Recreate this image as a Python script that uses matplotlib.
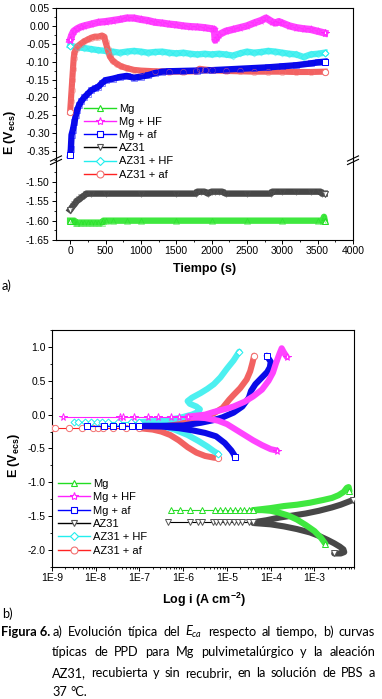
import matplotlib
matplotlib.use("Agg")
import matplotlib.pyplot as plt
from matplotlib.lines import Line2D
from matplotlib.transforms import IdentityTransform
from matplotlib.ticker import MultipleLocator, FixedLocator, LogLocator, NullFormatter
import numpy as np

plt.rcParams["font.family"] = ["Liberation Sans", "DejaVu Sans"]
plt.rcParams["mathtext.fontset"] = "custom"
plt.rcParams["mathtext.rm"] = "Liberation Sans"
plt.rcParams["mathtext.bf"] = "Liberation Sans:bold"
plt.rcParams["mathtext.it"] = "Lato:italic"

LABELS = ["Mg", "Mg + HF", "Mg + af", "AZ31", "AZ31 + HF", "AZ31 + af"]

# ---- panel a: OCP vs time ----
t_mg = [0, 20, 40, 60, 80, 100, 150, 200, 250, 300, 350, 400, 450, 470, 500, 600, 800, 1000,
        1500, 2000, 2500, 3000, 3500, 3570, 3590, 3600]
e_mg = [-1.600, -1.600, -1.600, -1.600, -1.605, -1.605, -1.605, -1.605, -1.605, -1.605, -1.605,
        -1.605, -1.605, -1.600, -1.600, -1.600, -1.600, -1.600, -1.600, -1.600, -1.600, -1.600,
        -1.600, -1.600, -1.590, -1.600]

t_mghf = [0, 25, 50, 100, 150, 200, 300, 400, 500, 600, 700, 800, 900, 1000, 1100, 1200, 1300,
          1400, 1500, 1600, 1700, 1800, 1900, 2000, 2040, 2050, 2070, 2100, 2200, 2300, 2400,
          2500, 2600, 2700, 2770, 2850, 2900, 2950, 3000, 3100, 3200, 3300, 3400, 3500, 3600]
e_mghf = [-0.040, -0.025, -0.015, -0.008, -0.003, 0.000, 0.005, 0.010, 0.012, 0.015, 0.018,
          0.022, 0.022, 0.018, 0.015, 0.010, 0.008, 0.005, 0.003, 0.000, -0.002, -0.003, -0.005,
          -0.008, -0.010, -0.040, -0.035, -0.025, -0.015, -0.010, -0.005, 0.000, 0.008, 0.015,
          0.022, 0.012, 0.008, 0.012, 0.008, 0.000, -0.005, -0.008, -0.010, -0.015, -0.020]

t_mgaf = [0, 10, 20, 40, 60, 80, 100, 130, 160, 200, 250, 300, 350, 400, 450, 500, 600, 700,
          800, 900, 1000, 1100, 1200, 1300, 1400, 1600, 1800, 2000, 2200, 2400, 2600, 2800,
          3000, 3200, 3400, 3500, 3600]
e_mgaf = [-0.362, -0.345, -0.305, -0.290, -0.270, -0.250, -0.235, -0.220, -0.210, -0.200,
          -0.190, -0.180, -0.175, -0.170, -0.160, -0.152, -0.148, -0.143, -0.140, -0.145,
          -0.142, -0.138, -0.132, -0.128, -0.127, -0.126, -0.125, -0.124, -0.122, -0.120,
          -0.118, -0.116, -0.113, -0.110, -0.105, -0.102, -0.100]

t_az = [0, 20, 40, 60, 80, 100, 130, 160, 200, 230, 300, 500, 1000, 1500, 1780, 1800, 1850,
        1900, 1950, 2000, 2050, 2100, 2150, 2200, 2500, 2840, 2860, 3000, 3200, 3400, 3540,
        3560, 3600]
e_az = [-1.572, -1.567, -1.562, -1.558, -1.553, -1.548, -1.545, -1.540, -1.535, -1.530, -1.530,
        -1.530, -1.530, -1.530, -1.530, -1.525, -1.525, -1.525, -1.530, -1.525, -1.525, -1.525,
        -1.525, -1.530, -1.530, -1.530, -1.525, -1.525, -1.525, -1.525, -1.525, -1.530, -1.530]

t_azhf = [0, 100, 200, 300, 400, 500, 600, 700, 800, 900, 1000, 1100, 1200, 1300, 1400, 1500,
          1600, 1700, 1800, 1900, 2000, 2100, 2200, 2300, 2400, 2500, 2600, 2700, 2800, 2900,
          3000, 3100, 3200, 3300, 3400, 3500, 3600]
e_azhf = [-0.055, -0.060, -0.062, -0.065, -0.068, -0.070, -0.072, -0.075, -0.072, -0.070,
          -0.072, -0.075, -0.073, -0.072, -0.075, -0.077, -0.075, -0.078, -0.080, -0.078,
          -0.080, -0.078, -0.080, -0.083, -0.077, -0.072, -0.075, -0.073, -0.070, -0.072,
          -0.075, -0.078, -0.080, -0.087, -0.080, -0.078, -0.075]

t_azaf = [0, 10, 20, 30, 40, 50, 60, 80, 100, 150, 200, 250, 300, 350, 400, 450, 480, 500, 530,
          560, 600, 660, 720, 800, 900, 1000, 1200, 1400, 1600, 1780, 1830, 1900, 2000, 2200,
          2400, 2600, 2800, 3000, 3200, 3400, 3600]
e_azaf = [-0.240, -0.210, -0.180, -0.150, -0.120, -0.090, -0.075, -0.065, -0.058, -0.050,
          -0.043, -0.038, -0.033, -0.030, -0.030, -0.027, -0.030, -0.045, -0.065, -0.085,
          -0.097, -0.106, -0.113, -0.118, -0.123, -0.125, -0.127, -0.128, -0.128, -0.127,
          -0.120, -0.122, -0.124, -0.126, -0.127, -0.128, -0.128, -0.128, -0.129, -0.129, -0.128]

# ---- panel b: polarisation curves (log10 i, E) ----
# each curve: tail near Ecorr, cathodic branch, anodic branch
mg_tail_logi = [-6.27, -6.08, -5.85, -5.58, -5.28, -5.16, -5.05, -4.93, -4.82, -4.7, -4.6, -4.5, -4.4]
mg_tail_e = [-1.41] * 13
mg_cat_logi = [-4.4, -4.2, -4.0, -3.8, -3.6, -3.4, -3.2, -3.0, -2.85, -2.75]
mg_cat_e = [-1.41, -1.41, -1.42, -1.45, -1.49, -1.55, -1.63, -1.72, -1.82, -1.91]
mg_an_logi = [-4.4, -4.0, -3.7, -3.4, -3.1, -2.8, -2.6, -2.45, -2.33, -2.26, -2.22, -2.2]
mg_an_e = [-1.41, -1.38, -1.35, -1.33, -1.30, -1.26, -1.23, -1.19, -1.14, -1.08, -1.07, -1.13]

mghf_tail_logi = [-8.75, -7.45, -7.38, -7.13, -6.8, -6.58, -6.28, -6.1, -5.9]
mghf_tail_e = [-0.03] * 9
mghf_cat_logi = [-5.9, -5.5, -5.2, -5.0, -4.85, -4.6, -4.4, -4.2, -4.0, -3.86]
mghf_cat_e = [-0.035, -0.05, -0.09, -0.14, -0.20, -0.30, -0.38, -0.45, -0.51, -0.53]
mghf_an_logi = [-5.9, -5.5, -5.3, -5.0, -4.85, -4.6, -4.4, -4.2, -4.05, -3.95, -3.88, -3.80,
                -3.75, -3.70, -3.63]
mghf_an_e = [-0.03, 0.0, 0.04, 0.09, 0.12, 0.19, 0.27, 0.37, 0.50, 0.62, 0.76, 0.90, 0.98, 0.92, 0.85]

mgaf_tail_logi = [-8.19, -7.82, -7.6, -7.4, -7.18, -7.0]
mgaf_tail_e = [-0.165] * 6
mgaf_cat_logi = [-7.0, -6.5, -6.1, -5.8, -5.5, -5.25, -5.05, -4.9, -4.83, -4.82]
mgaf_cat_e = [-0.17, -0.175, -0.20, -0.23, -0.27, -0.32, -0.42, -0.53, -0.60, -0.63]
mgaf_an_logi = [-7.0, -6.5, -6.0, -5.6, -5.3, -5.1, -4.85, -4.65, -4.5, -4.45, -4.35, -4.2,
                -4.08, -4.02, -4.0, -4.05, -4.09]
mgaf_an_e = [-0.165, -0.165, -0.16, -0.12, -0.08, -0.04, 0.03, 0.12, 0.25, 0.35, 0.45, 0.55,
             0.63, 0.70, 0.78, 0.83, 0.87]

az_tail_logi = [-6.35, -5.85, -5.66, -5.58, -5.32, -5.24, -5.16, -5.05, -4.95, -4.85, -4.75,
                -4.65, -4.5, -4.4]
az_tail_e = [-1.59] * 14
az_cat_logi = [-4.4, -4.0, -3.7, -3.4, -3.1, -2.9, -2.7, -2.55, -2.42, -2.34, -2.32, -2.4, -2.55]
az_cat_e = [-1.60, -1.62, -1.65, -1.69, -1.74, -1.79, -1.85, -1.90, -1.95, -1.99, -2.03, -2.05, -2.05]
az_an_logi = [-4.4, -4.1, -3.8, -3.5, -3.2, -2.9, -2.6, -2.4, -2.2, -2.12]
az_an_e = [-1.59, -1.56, -1.52, -1.49, -1.46, -1.42, -1.37, -1.33, -1.28, -1.26]

azhf_tail_logi = [-8.5, -8.4, -8.25, -8.1, -7.97, -7.85, -7.72, -7.5, -7.2, -7.0]
azhf_tail_e = [-0.11] * 10
azhf_cat_logi = [-7.0, -6.8, -6.5, -6.2, -5.9, -5.65, -5.45, -5.3, -5.2]
azhf_cat_e = [-0.11, -0.13, -0.16, -0.22, -0.30, -0.39, -0.47, -0.54, -0.58]
azhf_an_logi = [-7.0, -6.5, -6.1, -5.8, -5.66, -5.62, -5.7, -5.85, -5.9, -5.8, -5.6, -5.45,
                -5.3, -5.15, -5.0, -4.85, -4.72]
azhf_an_e = [-0.11, -0.09, -0.05, 0.0, 0.04, 0.08, 0.12, 0.16, 0.20, 0.25, 0.32, 0.38, 0.45,
             0.55, 0.68, 0.80, 0.93]

azaf_tail_logi = [-9.0, -8.94, -8.62, -8.31, -8.07, -7.95, -7.84, -7.6, -7.3, -7.0]
azaf_tail_e = [-0.19] * 10
azaf_cat_logi = [-7.0, -6.7, -6.5, -6.3, -6.1, -5.9, -5.7, -5.5, -5.3, -5.2]
azaf_cat_e = [-0.20, -0.22, -0.25, -0.30, -0.38, -0.48, -0.56, -0.61, -0.635, -0.64]
azaf_an_logi = [-7.0, -6.5, -6.0, -5.6, -5.3, -5.1, -5.0, -4.95, -4.85, -4.7, -4.55, -4.47,
                -4.42, -4.38]
azaf_an_e = [-0.19, -0.17, -0.12, -0.05, 0.02, 0.10, 0.18, 0.22, 0.29, 0.39, 0.52, 0.64, 0.76, 0.87]

# style per series: line colour, band colour, marker
STYLE = {
    "Mg": ("#22dd22", "#3fe83f", "^"),
    "Mg + HF": ("#ff22ff", "#ff44ff", "*"),
    "Mg + af": ("#0000ff", "#0a0ae8", "s"),
    "AZ31": ("#000000", "#474747", "v"),
    "AZ31 + HF": ("#22eeee", "#4cf0f0", "D"),
    "AZ31 + af": ("#ff2222", "#f26262", "o"),
}
MEC = {"Mg": "#22dd22", "Mg + HF": "#ff22ff", "Mg + af": "#0000ff", "AZ31": "#555555",
       "AZ31 + HF": "#22eeee", "AZ31 + af": "#f27070"}
MS = {"^": 4.5, "*": 5.5, "s": 4.0, "v": 4.5, "D": 3.5, "o": 4.5}

W, H = 382, 699
fig = plt.figure(figsize=(W / 100, H / 100), dpi=100)


def box(left, top, right, bottom):
    return [left / W, 1 - bottom / H, (right - left) / W, (bottom - top) / H]


TICK_FS = 7.5
LAB_FS = 9

# ---------- panel a ----------
ax_up = fig.add_axes(box(56, 8, 353, 160))
ax_lo = fig.add_axes(box(56, 160, 353, 240))

series_a = [
    ("AZ31 + HF", ax_up, t_azhf, e_azhf, 4.6),
    ("Mg + HF", ax_up, t_mghf, e_mghf, 5.2),
    ("AZ31 + af", ax_up, t_azaf, e_azaf, 4.4),
    ("Mg + af", ax_up, t_mgaf, e_mgaf, 4.6),
    ("AZ31", ax_lo, t_az, e_az, 4.6),
    ("Mg", ax_lo, t_mg, e_mg, 4.6),
]
for name, ax, t, e, lw in series_a:
    col, band, mk = STYLE[name]
    ax.plot(t, e, color=band, lw=lw, solid_joinstyle="round", zorder=2)
    ax.plot(t[:1] + t[-1:], e[:1] + e[-1:], ls="none", marker=mk, ms=MS[mk], mfc="white",
            mec=MEC[name], mew=0.7, zorder=3)
    ax.plot(t, e, ls="none", marker=mk, ms=MS[mk], mfc="none", mec=MEC[name], mew=0.5,
            alpha=0.6, zorder=3)

for ax in (ax_up, ax_lo):
    ax.set_xlim(-200, 4000)
    ax.tick_params(axis="both", which="major", direction="out", length=3, width=0.7,
                   labelsize=TICK_FS, pad=1.5)
    ax.tick_params(axis="both", which="minor", direction="out", length=1.6, width=0.6)
    ax.tick_params(axis="y", which="both", right=False)
    for sp in ax.spines.values():
        sp.set_linewidth(0.8)

ax_up.set_ylim(-0.3751, 0.05)
ax_up.yaxis.set_major_locator(FixedLocator([0.05, 0.0, -0.05, -0.10, -0.15, -0.20, -0.25, -0.30, -0.35]))
ax_up.yaxis.set_minor_locator(MultipleLocator(0.025))
ax_up.yaxis.set_major_formatter(matplotlib.ticker.FormatStrFormatter("%.2f"))
ax_up.spines["bottom"].set_visible(False)
ax_up.tick_params(axis="x", which="both", bottom=False, top=False, labelbottom=False)

ax_lo.set_ylim(-1.65, -1.4431)
ax_lo.yaxis.set_major_locator(FixedLocator([-1.50, -1.55, -1.60, -1.65]))
ax_lo.yaxis.set_minor_locator(FixedLocator([-1.475, -1.525, -1.575, -1.625]))
ax_lo.yaxis.set_major_formatter(matplotlib.ticker.FormatStrFormatter("%.2f"))
ax_lo.spines["top"].set_visible(False)
ax_lo.xaxis.set_major_locator(MultipleLocator(500))
ax_lo.xaxis.set_minor_locator(MultipleLocator(250))
ax_lo.tick_params(axis="x", which="both", top=False)

# break marks
for xb in (56, 353):
    for yb in (158.5, 162.0):
        fig.add_artist(Line2D([(xb - 5.5) / W, (xb + 5.5) / W],
                              [1 - (yb + 2.6) / H, 1 - (yb - 2.6) / H],
                              color="black", lw=0.8, transform=fig.transFigure))

handles = []
for name in LABELS:
    col, band, mk = STYLE[name]
    handles.append(Line2D([], [], color=col, lw=1.0, marker=mk, ms=MS[mk] + 0.5, mfc="white",
                          mec=MEC[name], mew=0.8))

fig.legend(handles, LABELS, loc="upper left", bbox_to_anchor=(84 / W, 1 - 104 / H),
           frameon=False, fontsize=8, handlelength=2.9, handletextpad=0.25, labelspacing=0.28,
           borderpad=0, borderaxespad=0)

fig.text(10 / W, 1 - 132 / H, r"E (V$_{\mathbf{ecs}}$)", rotation=90, ha="center", va="center",
         fontsize=LAB_FS, fontweight="bold")
fig.text(205 / W, 1 - 269 / H, "Tiempo (s)", ha="center", va="center", fontsize=LAB_FS,
         fontweight="bold")

# ---------- panel b ----------
ax_b = fig.add_axes(box(52, 330, 354, 567))
series_b = [
    ("AZ31", az_tail_logi, az_tail_e, az_cat_logi, az_cat_e, az_an_logi, az_an_e),
    ("Mg", mg_tail_logi, mg_tail_e, mg_cat_logi, mg_cat_e, mg_an_logi, mg_an_e),
    ("AZ31 + af", azaf_tail_logi, azaf_tail_e, azaf_cat_logi, azaf_cat_e, azaf_an_logi, azaf_an_e),
    ("AZ31 + HF", azhf_tail_logi, azhf_tail_e, azhf_cat_logi, azhf_cat_e, azhf_an_logi, azhf_an_e),
    ("Mg + af", mgaf_tail_logi, mgaf_tail_e, mgaf_cat_logi, mgaf_cat_e, mgaf_an_logi, mgaf_an_e),
    ("Mg + HF", mghf_tail_logi, mghf_tail_e, mghf_cat_logi, mghf_cat_e, mghf_an_logi, mghf_an_e),
]
for name, tl, te, cl, ce, al, ae in series_b:
    col, band, mk = STYLE[name]
    for lg, ee in ((cl, ce), (al, ae)):
        ax_b.plot(np.power(10.0, lg), ee, color=band, lw=4.4, solid_capstyle="round",
                  solid_joinstyle="round", zorder=2)
        ax_b.plot(np.power(10.0, lg[-1:]), ee[-1:], ls="none", marker=mk, ms=MS[mk],
                  mfc="white", mec=MEC[name], mew=0.7, zorder=3)
    ax_b.plot(np.power(10.0, tl), te, color=col, lw=0.8, marker=mk, ms=MS[mk], mfc="white",
              mec=MEC[name], mew=0.7, zorder=3)

ax_b.set_xscale("log")
ax_b.set_xlim(1e-9, 8e-3)
ax_b.set_ylim(-2.25, 1.25)
ax_b.xaxis.set_major_locator(FixedLocator([1e-9, 1e-8, 1e-7, 1e-6, 1e-5, 1e-4, 1e-3]))
ax_b.xaxis.set_major_formatter(matplotlib.ticker.FixedFormatter(
    ["1E-9", "1E-8", "1E-7", "1E-6", "1E-5", "1E-4", "1E-3"]))
ax_b.xaxis.set_minor_locator(LogLocator(base=10, subs=np.arange(2, 10), numticks=20))
ax_b.xaxis.set_minor_formatter(NullFormatter())
ax_b.yaxis.set_major_locator(MultipleLocator(0.5))
ax_b.yaxis.set_minor_locator(MultipleLocator(0.25))
ax_b.yaxis.set_major_formatter(matplotlib.ticker.FormatStrFormatter("%.1f"))
ax_b.tick_params(axis="both", which="major", direction="out", length=3, width=0.7,
                 labelsize=TICK_FS, pad=1.5, top=False, right=False)
ax_b.tick_params(axis="both", which="minor", direction="out", length=1.6, width=0.6,
                 top=False, right=False)
for sp in ax_b.spines.values():
    sp.set_linewidth(0.8)

fig.legend(handles, LABELS, loc="upper left", bbox_to_anchor=(58 / W, 1 - 479 / H),
           frameon=False, fontsize=8, handlelength=2.9, handletextpad=0.25, labelspacing=0.3,
           borderpad=0, borderaxespad=0)

fig.text(14 / W, 1 - 455 / H, r"E (V$_{\mathbf{ecs}}$)", rotation=90, ha="center", va="center",
         fontsize=LAB_FS, fontweight="bold")
fig.text(204 / W, 1 - 600 / H, r"Log i (A cm$^{\mathbf{-2}}$)", ha="center", va="center",
         fontsize=LAB_FS, fontweight="bold")

# ---------- panel tags and caption ----------
CAP = ["Lato", "DejaVu Sans"]
CAP_FS = 9.2
fig.text(2 / W, 1 - 290 / H, "a)", fontsize=CAP_FS, family=CAP, va="baseline")
fig.text(2 / W, 1 - 618 / H, "b)", fontsize=CAP_FS, family=CAP, va="baseline")

fig.canvas.draw()
renderer = fig.canvas.get_renderer()


def justified(words, x0, x1, y_top, justify=True):
    items = [fig.text(0, H - y_top, w, transform=IdentityTransform(), fontsize=CAP_FS,
                      family=CAP, va="baseline") for w in words]
    widths = [it.get_window_extent(renderer).width for it in items]
    if justify and len(items) > 1:
        gap = (x1 - x0 - sum(widths)) / (len(items) - 1)
    else:
        gap = fig.text(0, 0, " ", fontsize=CAP_FS, family=CAP).get_window_extent(renderer).width
    x = x0
    for it, w in zip(items, widths):
        it.set_x(x)
        x += w + gap


fig.text(1, H - 635.5, "Figura 6.", transform=IdentityTransform(), fontsize=CAP_FS, family=CAP,
         fontweight="bold", va="baseline")
justified("a) Evolución típica del $\\mathit{E}_{\\mathit{ca}}$ respecto al tiempo, b) curvas".split(),
          53, 375, 635.5)
justified("típicas de PPD para Mg pulvimetalúrgico y la aleación".split(), 52, 375, 656.5)
justified("AZ31, recubierta y sin recubrir, en la solución de PBS a".split(), 52, 375, 677)
justified("37 °C.".split(), 52, 375, 696.5, justify=False)

fig.savefig("out.png", dpi=100)
